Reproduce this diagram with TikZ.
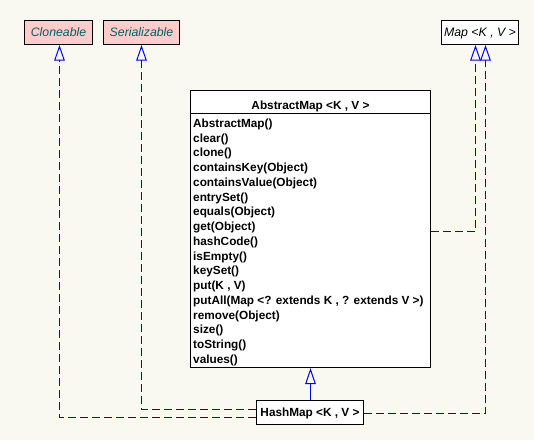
\documentclass[tikz,border=0pt]{standalone}
\usepackage{fontspec}
\setmainfont{Liberation Sans}
\usetikzlibrary{arrows.meta}
\definecolor{bgc}{RGB}{249,249,241}
\definecolor{pinkc}{RGB}{255,204,204}
\definecolor{tealc}{RGB}{0,96,96}
\definecolor{linec}{RGB}{0,0,255}
\tikzset{
  box/.style={draw=black, line width=1pt, inner sep=0pt, rectangle},
  ibox/.style={box, fill=pinkc},
  wbox/.style={box, fill=white},
  itxt/.style={inner sep=0pt, anchor=base, font=\fontsize{12.3}{14}\selectfont\itshape},
  btxt/.style={inner sep=0pt, anchor=base, font=\fontsize{11.8}{14}\selectfont\bfseries},
  mtxt/.style={inner sep=0pt, anchor=base west, font=\fontsize{11.8}{14}\selectfont\bfseries},
  realize/.style={draw=linec, line width=1pt, dash pattern=on 8pt off 4pt,
    -{Triangle[open, length=15.5pt, width=10.5pt]}},
  inherit/.style={draw=linec, line width=1pt,
    -{Triangle[open, length=16pt, width=10.5pt]}}
}
\begin{document}
\begin{tikzpicture}[x=1pt, y=-1pt]
\useasboundingbox[fill=bgc] (0,0) rectangle (534,440);
% interface boxes
\node[ibox, minimum width=68pt, minimum height=24pt] (clone) at (58.5,32.5) {};
\node[itxt, text=tealc] (tclone) at (58.5,36.7) {Cloneable};
\node[ibox, minimum width=76pt, minimum height=24pt] (ser) at (141.5,32.5) {};
\node[itxt, text=tealc] (tser) at (141.5,36.7) {Serializable};
\node[wbox, minimum width=77pt, minimum height=24pt] (map) at (480,32.5) {};
\node[itxt] (tmap) at (480,36.7) {Map <K , V >};
% AbstractMap
\node[wbox, minimum width=240pt, minimum height=23pt] (amh) at (310.5,102) {};
\node[btxt] (tamh) at (310.5,109) {AbstractMap <K , V >};
\node[wbox, minimum width=240pt, minimum height=254pt] (amb) at (310.5,240.5) {};
\foreach \t [count=\i from 0] in {AbstractMap(),clear(),clone(),containsKey(Object),containsValue(Object),entrySet(),equals(Object),get(Object),hashCode(),isEmpty(),keySet(),{put(K , V)},{putAll(Map <? extends K , ? extends V >)},remove(Object),size(),toString(),values()}
  \node[mtxt] (m\i) at (193,127.3+14.76*\i) {\t};
% HashMap
\node[wbox, minimum width=107pt, minimum height=24pt] (hm) at (310,412.5) {};
\node[btxt] (thm) at (310,416.7) {HashMap <K , V >};
% connectors
\draw[inherit] (amb.south |- hm.north) -- (amb.south);
\draw[realize] ([yshift=-5pt]hm.west) -| ([xshift=1pt]clone.south);
\draw[realize] ([yshift=3pt]hm.west) -| (ser.south);
\draw[realize] ([yshift=-1pt]hm.east) -| ([xshift=5.5pt]map.south);
\draw[realize] ([yshift=9pt]amb.east) -| ([xshift=-4.5pt]map.south);
\end{tikzpicture}
\end{document}
